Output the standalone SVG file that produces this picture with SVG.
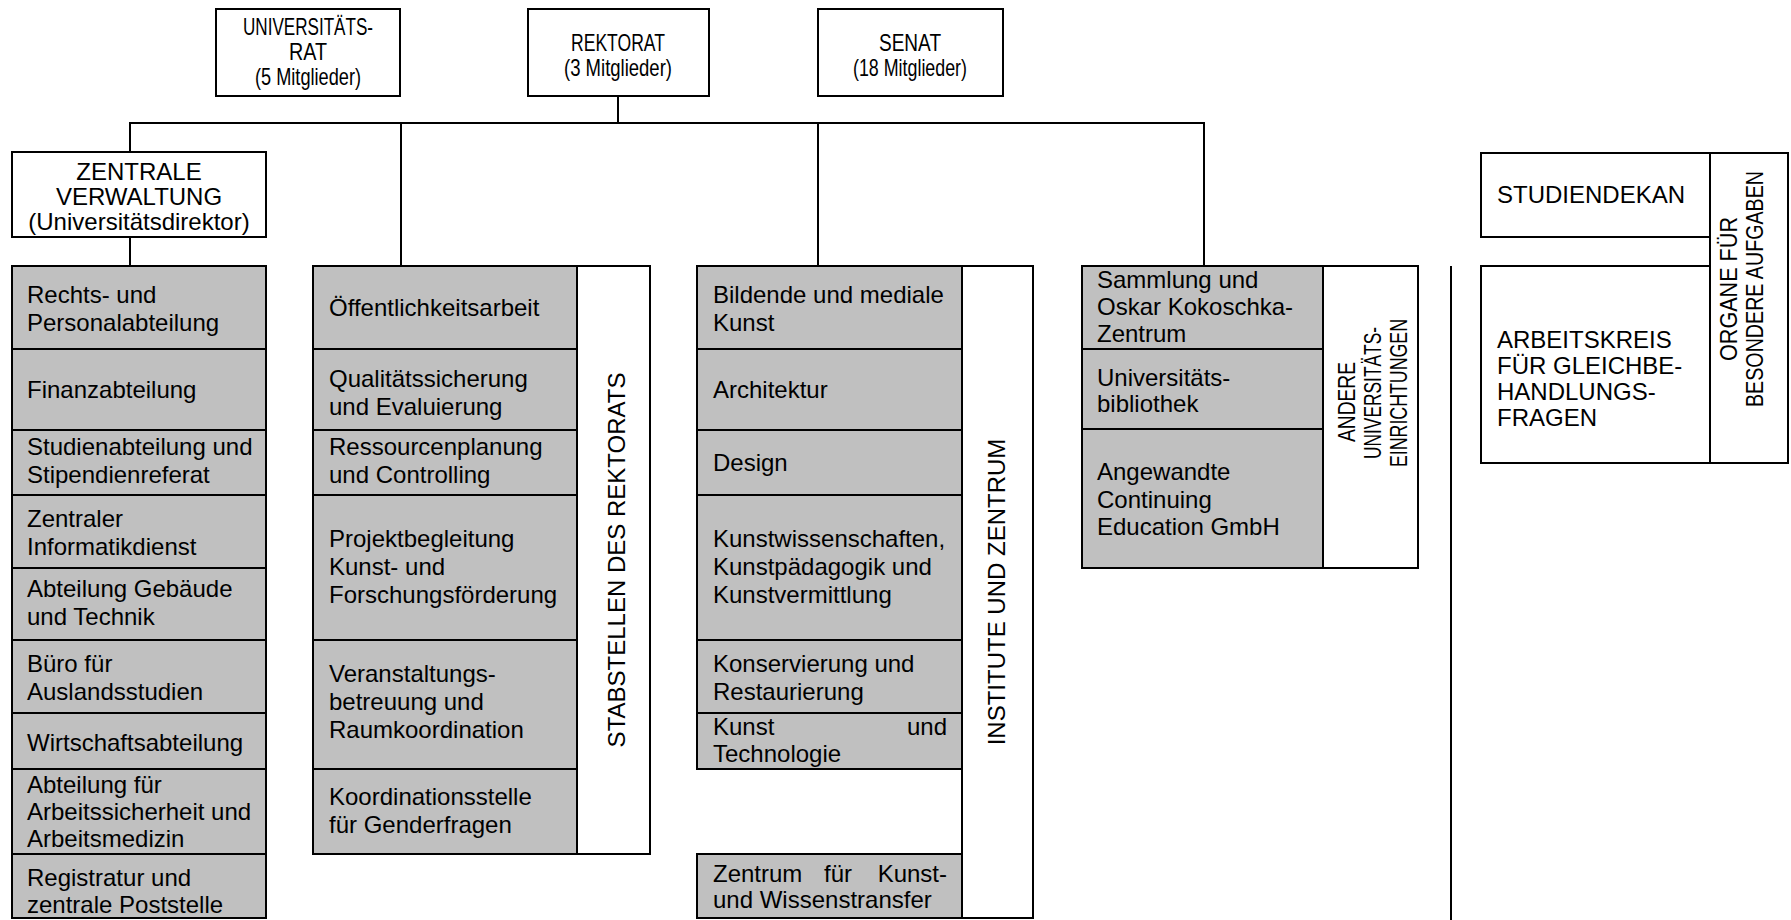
<svg xmlns="http://www.w3.org/2000/svg" width="1791" height="920" viewBox="0 0 1791 920">
<style>
.bx{fill:#ffffff;stroke:#000;stroke-width:2}
.gr{fill:#c0c0c0;stroke:#000;stroke-width:2}
.ln{stroke:#000;stroke-width:2;fill:none}
text{font-family:"Liberation Sans",Arial,sans-serif;font-size:24px;fill:#000}
.c{text-anchor:middle;font-size:24px}
.m{text-anchor:middle}
.e{text-anchor:end}
</style>
<rect width="1791" height="920" fill="#fff"/>
<g id="connectors">
<line class="ln" x1="618" y1="96" x2="618" y2="123"/>
<line class="ln" x1="129" y1="123" x2="1205" y2="123"/>
<line class="ln" x1="130" y1="123" x2="130" y2="152"/>
<line class="ln" x1="130" y1="237" x2="130" y2="266"/>
<line class="ln" x1="401" y1="123" x2="401" y2="266"/>
<line class="ln" x1="818" y1="123" x2="818" y2="266"/>
<line class="ln" x1="1204" y1="123" x2="1204" y2="266"/>
<line class="ln" x1="1451" y1="266" x2="1451" y2="920"/>
</g>
<g id="universitaetsrat">
<rect class="bx" x="216" y="9" width="184" height="87"/>
<text class="c" x="308" y="35" textLength="130" lengthAdjust="spacingAndGlyphs">UNIVERSITÄTS-</text>
<text class="c" x="308" y="60" textLength="38" lengthAdjust="spacingAndGlyphs">RAT</text>
<text class="c" x="308" y="85" textLength="106" lengthAdjust="spacingAndGlyphs">(5 Mitglieder)</text>
</g>
<g id="rektorat">
<rect class="bx" x="528" y="9" width="181" height="87"/>
<text class="c" x="618" y="51" textLength="94" lengthAdjust="spacingAndGlyphs">REKTORAT</text>
<text class="c" x="618" y="76" textLength="108" lengthAdjust="spacingAndGlyphs">(3 Mitglieder)</text>
</g>
<g id="senat">
<rect class="bx" x="818" y="9" width="185" height="87"/>
<text class="c" x="910" y="51" textLength="62" lengthAdjust="spacingAndGlyphs">SENAT</text>
<text class="c" x="910" y="76" textLength="114" lengthAdjust="spacingAndGlyphs">(18 Mitglieder)</text>
</g>
<g id="zentrale-verwaltung">
<rect class="bx" x="12" y="152" width="254" height="85"/>
<text class="m" x="139" y="180">ZENTRALE</text>
<text class="m" x="139" y="205">VERWALTUNG</text>
<text class="m" x="139" y="230">(Universitätsdirektor)</text>
</g>
<g id="verwaltung-abteilungen">
<rect class="gr" x="12" y="266" width="254" height="83"/>
<text x="27" y="303">Rechts- und</text><text x="27" y="331">Personalabteilung</text>
<rect class="gr" x="12" y="349" width="254" height="81"/>
<text x="27" y="398">Finanzabteilung</text>
<rect class="gr" x="12" y="430" width="254" height="65"/>
<text x="27" y="455">Studienabteilung und</text><text x="27" y="483">Stipendienreferat</text>
<rect class="gr" x="12" y="495" width="254" height="73"/>
<text x="27" y="527">Zentraler</text><text x="27" y="555">Informatikdienst</text>
<rect class="gr" x="12" y="568" width="254" height="72"/>
<text x="27" y="597">Abteilung Gebäude</text><text x="27" y="625">und Technik</text>
<rect class="gr" x="12" y="640" width="254" height="73"/>
<text x="27" y="672">Büro für</text><text x="27" y="700">Auslandsstudien</text>
<rect class="gr" x="12" y="713" width="254" height="56"/>
<text x="27" y="751">Wirtschaftsabteilung</text>
<rect class="gr" x="12" y="769" width="254" height="85"/>
<text x="27" y="793">Abteilung für</text><text x="27" y="820">Arbeitssicherheit und</text><text x="27" y="847">Arbeitsmedizin</text>
<rect class="gr" x="12" y="854" width="254" height="64"/>
<text x="27" y="886">Registratur und</text><text x="27" y="913">zentrale Poststelle</text>
</g>
<g id="stabstellen">
<rect class="gr" x="313" y="266" width="264" height="83"/>
<text x="329" y="316">Öffentlichkeitsarbeit</text>
<rect class="gr" x="313" y="349" width="264" height="81"/>
<text x="329" y="387">Qualitätssicherung</text><text x="329" y="415">und Evaluierung</text>
<rect class="gr" x="313" y="430" width="264" height="65"/>
<text x="329" y="455">Ressourcenplanung</text><text x="329" y="483">und Controlling</text>
<rect class="gr" x="313" y="495" width="264" height="145"/>
<text x="329" y="547">Projektbegleitung</text><text x="329" y="575">Kunst- und</text><text x="329" y="603">Forschungsförderung</text>
<rect class="gr" x="313" y="640" width="264" height="129"/>
<text x="329" y="682">Veranstaltungs-</text><text x="329" y="710">betreuung und</text><text x="329" y="738">Raumkoordination</text>
<rect class="gr" x="313" y="769" width="264" height="85"/>
<text x="329" y="805">Koordinationsstelle</text><text x="329" y="833">für Genderfragen</text>
<rect class="bx" x="577" y="266" width="73" height="588"/>
<text class="m" transform="translate(625,560) rotate(-90)">STABSTELLEN DES REKTORATS</text>
</g>
<g id="institute">
<rect class="gr" x="697" y="266" width="265" height="83"/>
<text x="713" y="303">Bildende und mediale</text><text x="713" y="331">Kunst</text>
<rect class="gr" x="697" y="349" width="265" height="81"/>
<text x="713" y="398">Architektur</text>
<rect class="gr" x="697" y="430" width="265" height="65"/>
<text x="713" y="471">Design</text>
<rect class="gr" x="697" y="495" width="265" height="145"/>
<text x="713" y="547">Kunstwissenschaften,</text><text x="713" y="575">Kunstpädagogik und</text><text x="713" y="603">Kunstvermittlung</text>
<rect class="gr" x="697" y="640" width="265" height="73"/>
<text x="713" y="672">Konservierung und</text><text x="713" y="700">Restaurierung</text>
<rect class="gr" x="697" y="713" width="265" height="56"/>
<text x="713" y="735">Kunst</text><text class="e" x="947" y="735">und</text><text x="713" y="762">Technologie</text>
<rect class="gr" x="697" y="854" width="265" height="64"/>
<text x="713" y="882">Zentrum</text><text x="824" y="882">für</text><text class="e" x="947" y="882">Kunst-</text><text x="713" y="908">und Wissenstransfer</text>
<rect class="bx" x="962" y="266" width="71" height="652"/>
<text class="m" transform="translate(1005,592) rotate(-90)">INSTITUTE UND ZENTRUM</text>
</g>
<g id="andere-einrichtungen">
<rect class="gr" x="1082" y="266" width="241" height="83"/>
<text x="1097" y="288">Sammlung und</text><text x="1097" y="315">Oskar Kokoschka-</text><text x="1097" y="342">Zentrum</text>
<rect class="gr" x="1082" y="349" width="241" height="80"/>
<text x="1097" y="386">Universitäts-</text><text x="1097" y="412">bibliothek</text>
<rect class="gr" x="1082" y="429" width="241" height="139"/>
<text x="1097" y="480">Angewandte</text><text x="1097" y="508">Continuing</text><text x="1097" y="535">Education GmbH</text>
<rect class="bx" x="1323" y="266" width="95" height="302"/>
<text class="m" transform="translate(1355,402) rotate(-90)" textLength="80" lengthAdjust="spacingAndGlyphs">ANDERE</text>
<text class="m" transform="translate(1381,393) rotate(-90)" textLength="132" lengthAdjust="spacingAndGlyphs">UNIVERSITÄTS-</text>
<text class="m" transform="translate(1407,393) rotate(-90)" textLength="148" lengthAdjust="spacingAndGlyphs">EINRICHTUNGEN</text>
</g>
<g id="studiendekan">
<rect class="bx" x="1481" y="153" width="229" height="84"/>
<text x="1497" y="203">STUDIENDEKAN</text>
</g>
<g id="arbeitskreis">
<rect class="bx" x="1481" y="266" width="229" height="197"/>
<text x="1497" y="348">ARBEITSKREIS</text>
<text x="1497" y="374">FÜR GLEICHBE-</text>
<text x="1497" y="400">HANDLUNGS-</text>
<text x="1497" y="426">FRAGEN</text>
</g>
<g id="organe">
<rect class="bx" x="1710" y="153" width="78" height="310"/>
<text class="m" transform="translate(1737,289) rotate(-90)" textLength="144" lengthAdjust="spacingAndGlyphs">ORGANE FÜR</text>
<text class="m" transform="translate(1763,289) rotate(-90)" textLength="236" lengthAdjust="spacingAndGlyphs">BESONDERE AUFGABEN</text>
</g>
</svg>
